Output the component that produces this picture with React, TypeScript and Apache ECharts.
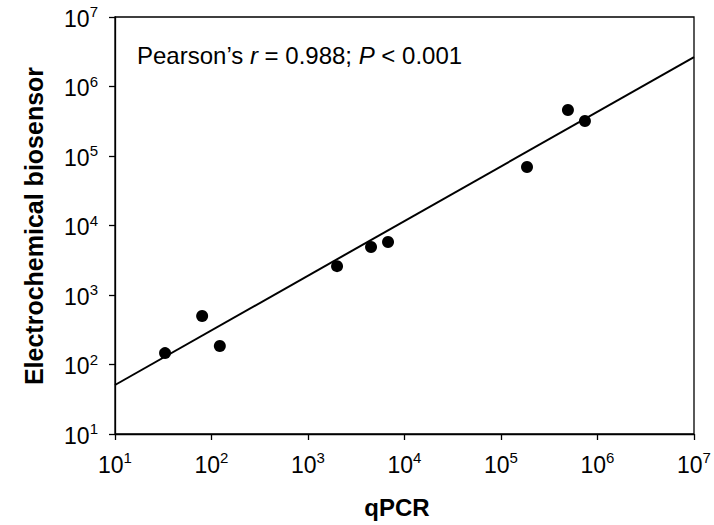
import React, { useEffect, useRef } from "react";
import * as echarts from "echarts";

const qpcr = [33, 80, 122, 2000, 4500, 6750, 186000, 494000, 741000];
const biosensor = [146, 499, 185, 2600, 4900, 5800, 69500, 459000, 319000];
const fitX = [10, 1e7];
const fitY = [50.7, 2.65e6];
const axisMin = 10;
const axisMax = 1e7;

const FONT = "Liberation Sans, Arial, sans-serif";

function expLabel(v: number) {
  const e = Math.round(Math.log10(v));
  return `{base|10}{sup|${e}}`;
}

const rich = {
  base: { fontSize: 23, fontFamily: FONT, color: "#000", lineHeight: 26, verticalAlign: "bottom" },
  sup: { fontSize: 15, fontFamily: FONT, color: "#000", lineHeight: 26, verticalAlign: "top" },
};

export default function App() {
  const ref = useRef<HTMLDivElement>(null);
  useEffect(() => {
    if (!ref.current) return;
    const chart = echarts.init(ref.current, null, { renderer: "svg" });
    chart.setOption({
      animation: false,
      backgroundColor: "#fff",
      grid: {
        left: 115,
        right: 20,
        top: 17,
        bottom: 91,
        show: true,
        borderColor: "#000",
        borderWidth: 1.3,
      },
      xAxis: {
        type: "log",
        logBase: 10,
        min: axisMin,
        max: axisMax,
        splitLine: { show: false },
        axisLine: { show: true, lineStyle: { color: "#000", width: 1.3 } },
        axisTick: { show: true, inside: false, length: 6, lineStyle: { color: "#000", width: 1.3 } },
        axisLabel: { margin: 16, fontSize: 23, fontFamily: FONT, color: "#000", formatter: expLabel, rich },
      },
      yAxis: {
        type: "log",
        logBase: 10,
        min: axisMin,
        max: axisMax,
        splitLine: { show: false },
        axisLine: { show: true, lineStyle: { color: "#000", width: 1.3 } },
        axisTick: { show: true, inside: false, length: 6, lineStyle: { color: "#000", width: 1.3 } },
        axisLabel: { margin: 17, fontSize: 23, fontFamily: FONT, color: "#000", formatter: expLabel, rich },
      },
      graphic: [
        {
          type: "text",
          left: 137,
          top: 43,
          style: {
            text: "{n|Pearson’s }{i|r}{n| = 0.988; }{i|P}{n| < 0.001}",
            rich: {
              n: { fontSize: 24, fontFamily: FONT, fill: "#000" },
              i: { fontSize: 24, fontFamily: FONT, fontStyle: "italic", fill: "#000" },
            },
          },
        },
        {
          type: "text",
          x: 397,
          y: 507,
          style: {
            text: "qPCR",
            fontSize: 24,
            fontWeight: "bold",
            fontFamily: FONT,
            fill: "#000",
            align: "center",
            verticalAlign: "middle",
          },
        },
        {
          type: "text",
          x: 34,
          y: 226,
          rotation: Math.PI / 2,
          style: {
            text: "Electrochemical biosensor",
            fontSize: 25,
            fontWeight: "bold",
            fontFamily: FONT,
            fill: "#000",
            align: "center",
            verticalAlign: "middle",
          },
        },
      ],
      series: [
        {
          type: "line",
          data: fitX.map((x, i) => [x, fitY[i]]),
          showSymbol: false,
          symbol: "none",
          lineStyle: { color: "#000", width: 2 },
          z: 2,
        },
        {
          type: "scatter",
          data: qpcr.map((x, i) => [x, biosensor[i]]),
          symbol: "circle",
          symbolSize: 12,
          itemStyle: { color: "#000", opacity: 1 },
          z: 3,
        },
      ],
    });
    return () => chart.dispose();
  }, []);
  return <div ref={ref} style={{ width: 714, height: 525, position: "absolute", left: 0, top: 0 }} />;
}
